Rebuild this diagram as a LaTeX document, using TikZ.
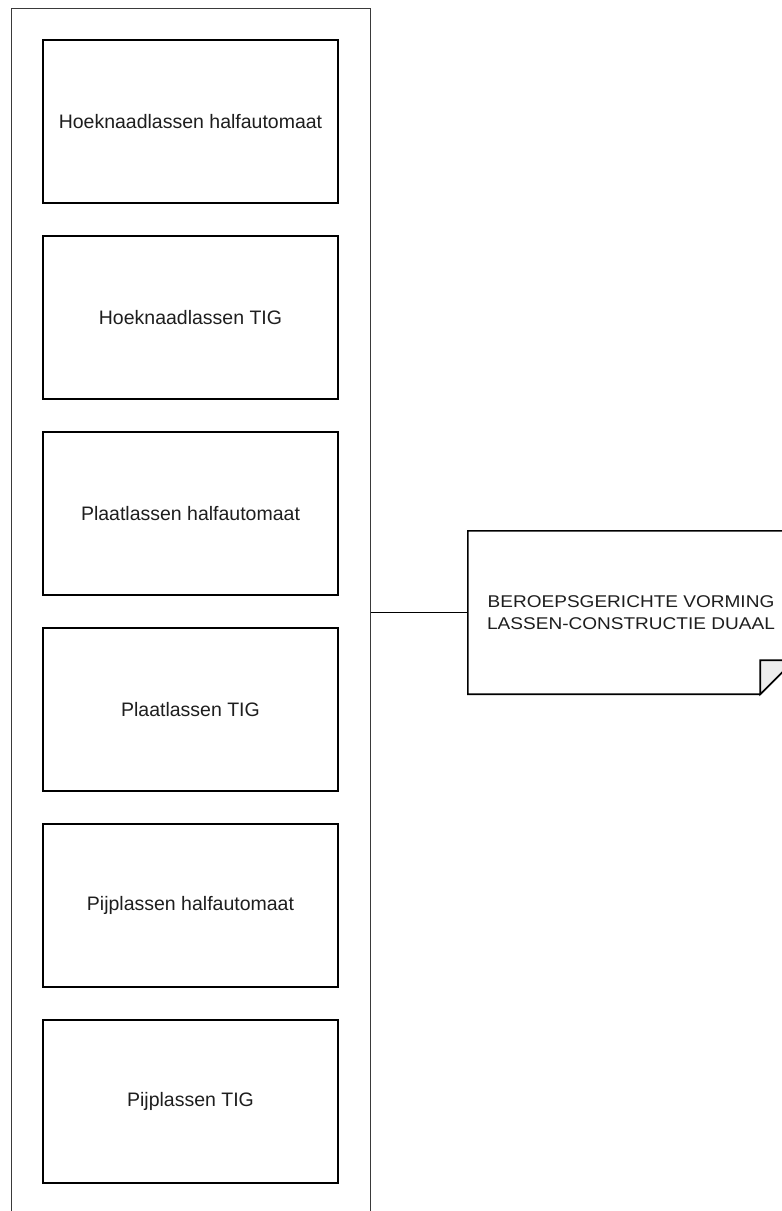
\documentclass[tikz,border=0pt]{standalone}
\usepackage{fontspec}
\setmainfont{Liberation Sans}
\newfontfamily\notefont[FakeStretch=1.12]{Liberation Sans}
\definecolor{txt}{HTML}{1E1E1E}
\definecolor{foldgray}{HTML}{EDEDED}
\definecolor{framegray}{HTML}{3A3A3A}
\tikzset{
  stepbox/.style={draw=black, line width=1.6pt, fill=white, minimum width=295pt, minimum height=163pt, inner sep=0pt, text=txt, font=\fontsize{19.5}{22}\selectfont},
  framebox/.style={draw=framegray, line width=1.3pt, minimum width=359pt, minimum height=1220pt, inner sep=0pt, anchor=north west},
  notebox/.style={draw=none, minimum width=326pt, minimum height=163pt, inner sep=0pt, text=txt, align=center, font=\notefont\fontsize{17}{22}\selectfont},
  link/.style={draw=black, line width=1.5pt},
}
\begin{document}
\begin{tikzpicture}[x=1pt, y=-1pt]
\useasboundingbox[fill=white] (0,0) rectangle (782,1211);
\clip (0,0) rectangle (782,1211);
\node[framebox] (frame) at (11,8) {};
\node[stepbox] (b1) at (190.5,121.5) {Hoeknaadlassen halfautomaat};
\node[stepbox] (b2) at (190.5,317.5) {Hoeknaadlassen TIG};
\node[stepbox] (b3) at (190.5,513.5) {Plaatlassen halfautomaat};
\node[stepbox] (b4) at (190.5,709.5) {Plaatlassen TIG};
\node[stepbox] (b5) at (190.5,905.5) {Pijplassen halfautomaat};
\node[stepbox] (b6) at (190.5,1101.5) {Pijplassen TIG};
\node[notebox] (note) at (631,612.5) {BEROEPSGERICHTE VORMING\\LASSEN-CONSTRUCTIE DUAAL};
\draw[line width=1.6pt, fill=white] (note.north west) -- (note.north east) -- ([yshift=34pt]note.south east) -- ([xshift=-34pt]note.south east) -- (note.south west) -- cycle;
\draw[line width=1.6pt, fill=foldgray] ([xshift=-34pt]note.south east) -- ([xshift=-34pt, yshift=34pt]note.south east) -- ([yshift=34pt]note.south east) -- cycle;
\node[notebox] at (note.center) {BEROEPSGERICHTE VORMING\\LASSEN-CONSTRUCTIE DUAAL};
\draw[link] (note.west) -- (note.west -| frame.east);
\end{tikzpicture}
\end{document}
